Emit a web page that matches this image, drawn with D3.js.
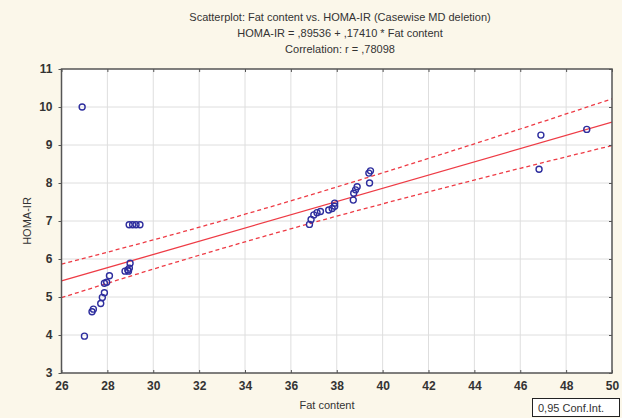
<!DOCTYPE html>
<html>
<head>
<meta charset="utf-8">
<script src="https://cdn.jsdelivr.net/npm/d3@7.9.0/dist/d3.min.js"></script>
<style>
  body { margin: 0; background: #fbf7ea; }
  svg { display: block; font-family: "Liberation Sans", Arial, sans-serif; }
</style>
</head>
<body>
<svg id="chart" width="622" height="418"></svg>
<script>
// values
const fatContent = [26.9, 27.0, 27.33, 27.39, 27.71, 27.78, 27.87, 27.87, 27.97, 28.09,
  28.77, 28.89, 28.96, 28.99, 28.92,
  28.95, 29.1, 29.25, 29.42,
  36.81, 36.88, 37.0, 37.14, 37.29, 37.65, 37.8, 37.91, 37.91,
  38.72, 38.74, 38.82, 38.89, 39.43, 39.4, 39.47,
  46.9, 46.82, 48.9];
const homaIR = [10.0, 3.97, 4.61, 4.68, 4.83, 4.99, 5.11, 5.36, 5.39, 5.56,
  5.68, 5.71, 5.76, 5.89, 5.68,
  6.9, 6.9, 6.9, 6.9,
  6.91, 7.04, 7.16, 7.22, 7.25, 7.29, 7.33, 7.39, 7.47,
  7.55, 7.73, 7.82, 7.9, 8.0, 8.26, 8.32,
  9.26, 8.36, 9.41];
const intercept = 0.89536, slope = 0.17410;
// half width of the 0,95 band
const bandX = [26, 30, 34, 38, 42, 46, 50];
const bandHalf = [0.44, 0.384, 0.363, 0.384, 0.44, 0.517, 0.615];
const xTicks = d3.range(26, 51, 2);
const yTicks = d3.range(3, 12, 1);
const titleLines = [
  "Scatterplot: Fat content vs. HOMA-IR (Casewise MD deletion)",
  "HOMA-IR = ,89536 + ,17410 * Fat content",
  "Correlation: r = ,78098"
];

const svg = d3.select("#chart");
const x = d3.scaleLinear().domain([26, 50]).range([61.5, 612]);
const y = d3.scaleLinear().domain([3, 11]).range([373, 69]);
const red = "#ee3b45", ink = "#333";

svg.append("rect").attr("x", x(26)).attr("y", y(11))
  .attr("width", x(50) - x(26)).attr("height", y(3) - y(11)).attr("fill", "#fff");

// grid
svg.append("g").selectAll("line").data(xTicks.slice(1, -1)).join("line")
  .attr("x1", d => x(d)).attr("x2", d => x(d)).attr("y1", y(11)).attr("y2", y(3))
  .attr("stroke", "#dedede").attr("stroke-width", 1);
svg.append("g").selectAll("line").data(yTicks.slice(1, -1)).join("line")
  .attr("y1", d => y(d)).attr("y2", d => y(d)).attr("x1", x(26)).attr("x2", x(50))
  .attr("stroke", "#dedede").attr("stroke-width", 1);

const clip = svg.append("clipPath").attr("id", "plot").append("rect")
  .attr("x", x(26)).attr("y", y(11)).attr("width", x(50) - x(26)).attr("height", y(3) - y(11));
const plot = svg.append("g").attr("clip-path", "url(#plot)");
const line = d3.line().x(d => x(d[0])).y(d => y(d[1])).curve(d3.curveNatural);
const fit = v => intercept + slope * v;

plot.append("path").attr("d", line([[26, fit(26)], [50, fit(50)]]))
  .attr("fill", "none").attr("stroke", red).attr("stroke-width", 1.3);
[1, -1].forEach(s => {
  plot.append("path").attr("d", line(bandX.map((v, i) => [v, fit(v) + s * bandHalf[i]])))
    .attr("fill", "none").attr("stroke", red).attr("stroke-width", 1.3)
    .attr("stroke-dasharray", "4,3");
});

// points
plot.selectAll("circle").data(fatContent).join("circle")
  .attr("cx", d => x(d)).attr("cy", (d, i) => y(homaIR[i])).attr("r", 3)
  .attr("fill", "none").attr("stroke", "#2e2e9e").attr("stroke-width", 1.4);

// frame
svg.append("rect").attr("x", x(26)).attr("y", y(11))
  .attr("width", x(50) - x(26)).attr("height", y(3) - y(11))
  .attr("fill", "none").attr("stroke", "#555").attr("stroke-width", 1.5);

// axes
const xAxis = svg.append("g").attr("transform", `translate(0,${y(3)})`)
  .call(d3.axisBottom(x).tickValues(xTicks).tickSize(-3).tickPadding(8));
const xTop = svg.append("g").attr("transform", `translate(0,${y(11)})`)
  .call(d3.axisTop(x).tickValues(xTicks).tickSize(-3).tickFormat(""));
const yAxis = svg.append("g").attr("transform", `translate(${x(26)},0)`)
  .call(d3.axisLeft(y).tickValues(yTicks).tickSize(3).tickPadding(6));
const yRight = svg.append("g").attr("transform", `translate(${x(50)},0)`)
  .call(d3.axisRight(y).tickValues(yTicks).tickSize(-3).tickFormat(""));
[xAxis, xTop, yAxis, yRight].forEach(g => {
  g.select(".domain").remove();
  g.selectAll("line").attr("stroke", "#555");
  g.selectAll("text").attr("fill", ink).attr("font-size", 12).attr("font-weight", "bold");
});

// titles
svg.append("g").selectAll("text").data(titleLines).join("text")
  .attr("x", 340).attr("y", (d, i) => 21 + i * 16)
  .attr("text-anchor", "middle").attr("font-size", 11).attr("fill", ink).text(d => d);
svg.append("text").attr("x", 327).attr("y", 409).attr("text-anchor", "middle")
  .attr("font-size", 11).attr("fill", ink).text("Fat content");
svg.append("text").attr("transform", `translate(31,221) rotate(-90)`)
  .attr("text-anchor", "middle").attr("font-size", 11).attr("fill", ink).text("HOMA-IR");

// legend box
svg.append("rect").attr("x", 532.5).attr("y", 398.5).attr("width", 87).attr("height", 18)
  .attr("fill", "#fff").attr("stroke", "#222").attr("stroke-width", 1);
svg.append("text").attr("x", 538).attr("y", 412).attr("font-size", 11).attr("fill", ink)
  .text("0,95 Conf.Int.");
</script>
</body>
</html>
